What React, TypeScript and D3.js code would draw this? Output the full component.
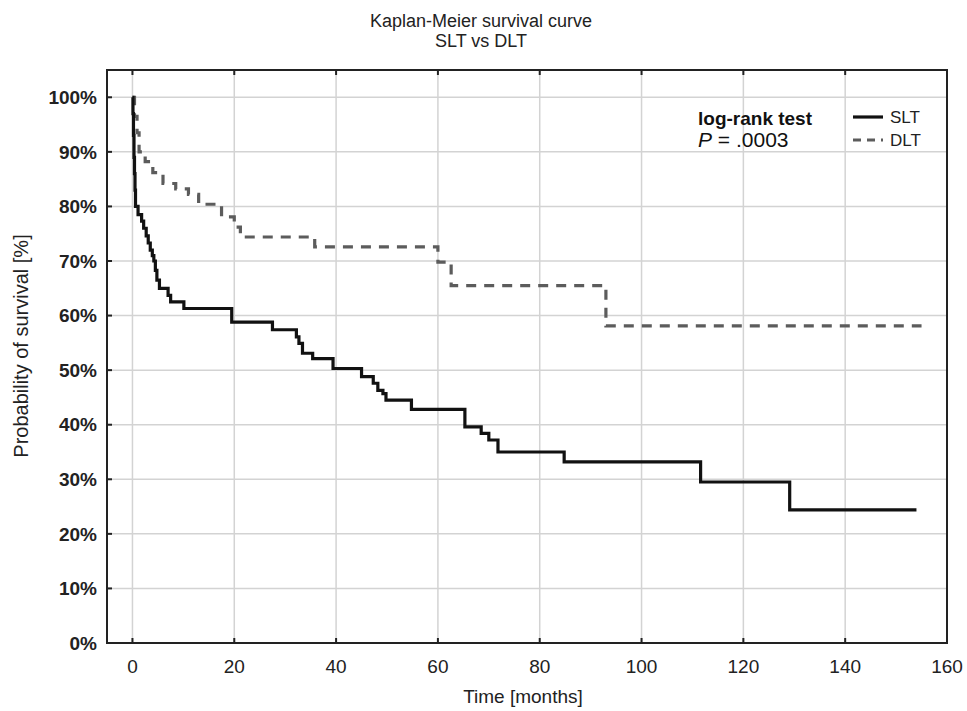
import React, { useRef, useEffect } from "react";
import * as d3 from "d3";

// Kaplan-Meier steps (months, % surviving)
const sltTimes = [0, 0.1, 0.2, 0.3, 0.4, 0.5, 0.6, 1.1, 1.8, 2.2, 2.7, 3.1, 3.5, 3.9, 4.2, 4.5, 4.8, 5.3, 7.0, 7.5, 10.1, 19.5, 27.5, 32.2, 32.7, 33.4, 35.4, 39.4, 45.0, 47.3, 48.2, 49.2, 49.8, 54.8, 65.3, 68.5, 70.0, 71.8, 84.8, 111.6, 129.1, 154];
const sltSurv = [100, 97, 93, 89, 86, 83, 80, 78.5, 77.3, 76, 74.6, 73.3, 72, 71, 70, 68.3, 66.5, 65, 63.7, 62.5, 61.3, 58.8, 57.4, 56.1, 54.9, 53.1, 52.1, 50.3, 48.8, 47.6, 46.3, 45.7, 44.5, 42.8, 39.6, 38.4, 37.2, 35.0, 33.2, 29.5, 24.4, 24.4];

const dltTimes = [0, 0.4, 0.9, 1.3, 2.5, 4.0, 6.0, 8.5, 11.0, 13.0, 17.5, 20.0, 21.2, 35.8, 60.0, 62.6, 93.0, 155];
const dltSurv = [100, 96.5, 93.5, 90, 88.2, 86.2, 84.2, 83.2, 82.2, 80.4, 78.1, 76.2, 74.4, 72.6, 69.8, 65.5, 58.1, 58.1];

const xTicks = [0, 20, 40, 60, 80, 100, 120, 140, 160];
const yTicks = [0, 10, 20, 30, 40, 50, 60, 70, 80, 90, 100];

const titleLines = ["Kaplan-Meier survival curve", "SLT vs DLT"];

export default function App() {
  const ref = useRef<SVGSVGElement>(null);

  useEffect(() => {
    const width = 967;
    const height = 711;
    const frame = { left: 107, right: 947, top: 70, bottom: 643 };
    const font = "'Liberation Sans', Arial, sans-serif";

    const svg = d3.select(ref.current);
    svg.selectAll("*").remove();
    svg.attr("width", width).attr("height", height);

    svg.append("rect").attr("width", width).attr("height", height).attr("fill", "#fff");

    const x = d3.scaleLinear().domain([-5, 160]).range([frame.left, frame.right]);
    const y = d3.scaleLinear().domain([0, 105]).range([frame.bottom, frame.top]);

    // grid
    const grid = svg.append("g").attr("stroke", "#d3d3d3").attr("stroke-width", 1.5);
    grid.selectAll("line.h")
      .data(yTicks.filter((d) => d > 0))
      .enter()
      .append("line")
      .attr("x1", frame.left)
      .attr("x2", frame.right)
      .attr("y1", (d) => y(d))
      .attr("y2", (d) => y(d));
    grid.selectAll("line.v")
      .data(xTicks.filter((d) => d < 160))
      .enter()
      .append("line")
      .attr("y1", frame.top)
      .attr("y2", frame.bottom)
      .attr("x1", (d) => x(d))
      .attr("x2", (d) => x(d));

    // curves
    const line = d3
      .line<[number, number]>()
      .x((d) => x(d[0]))
      .y((d) => y(d[1]))
      .curve(d3.curveStepAfter);

    const slt: [number, number][] = sltTimes.map((t, i) => [t, sltSurv[i]]);
    const dlt: [number, number][] = dltTimes.map((t, i) => [t, dltSurv[i]]);

    svg.append("path")
      .attr("d", line(dlt))
      .attr("fill", "none")
      .attr("stroke", "#5c5c5c")
      .attr("stroke-width", 3.2)
      .attr("stroke-dasharray", "10,8");

    svg.append("path")
      .attr("d", line(slt))
      .attr("fill", "none")
      .attr("stroke", "#111")
      .attr("stroke-width", 3.2);

    // frame
    svg.append("rect")
      .attr("x", frame.left)
      .attr("y", frame.top)
      .attr("width", frame.right - frame.left)
      .attr("height", frame.bottom - frame.top)
      .attr("fill", "none")
      .attr("stroke", "#222")
      .attr("stroke-width", 2);

    // inward ticks
    const ticks = svg.append("g").attr("stroke", "#222").attr("stroke-width", 2);
    yTicks.forEach((d) => {
      ticks.append("line").attr("x1", frame.left).attr("x2", frame.left + 5).attr("y1", y(d)).attr("y2", y(d));
    });
    xTicks.forEach((d) => {
      ticks.append("line").attr("x1", x(d)).attr("x2", x(d)).attr("y1", frame.bottom).attr("y2", frame.bottom - 5);
      ticks.append("line").attr("x1", x(d)).attr("x2", x(d)).attr("y1", frame.top).attr("y2", frame.top + 5);
    });

    // tick labels
    svg.append("g")
      .selectAll("text")
      .data(yTicks)
      .enter()
      .append("text")
      .attr("x", 97)
      .attr("y", (d) => y(d))
      .attr("dy", "0.35em")
      .attr("text-anchor", "end")
      .attr("font-family", font)
      .attr("font-weight", "bold")
      .attr("font-size", 19)
      .attr("fill", "#222")
      .text((d) => `${d}%`);

    svg.append("g")
      .selectAll("text")
      .data(xTicks)
      .enter()
      .append("text")
      .attr("x", (d) => x(d))
      .attr("y", 673)
      .attr("text-anchor", "middle")
      .attr("font-family", font)
      .attr("font-size", 19)
      .attr("fill", "#222")
      .text((d) => d);

    // axis titles
    svg.append("text")
      .attr("x", 523)
      .attr("y", 703)
      .attr("text-anchor", "middle")
      .attr("font-family", font)
      .attr("font-size", 19)
      .attr("fill", "#222")
      .text("Time [months]");

    svg.append("text")
      .attr("transform", "translate(28,346) rotate(-90)")
      .attr("text-anchor", "middle")
      .attr("font-family", font)
      .attr("font-size", 20)
      .attr("fill", "#222")
      .text("Probability of survival [%]");

    // title
    svg.append("g")
      .selectAll("text")
      .data(titleLines)
      .enter()
      .append("text")
      .attr("x", 481)
      .attr("y", (d, i) => 27 + i * 20)
      .attr("text-anchor", "middle")
      .attr("font-family", font)
      .attr("font-size", 18)
      .attr("fill", "#222")
      .text((d) => d);

    // log-rank annotation
    svg.append("text")
      .attr("x", 698)
      .attr("y", 125)
      .attr("font-family", font)
      .attr("font-weight", "bold")
      .attr("font-size", 19)
      .attr("fill", "#111")
      .text("log-rank test");

    const p = svg.append("text")
      .attr("x", 698)
      .attr("y", 147)
      .attr("font-family", font)
      .attr("font-size", 21)
      .attr("fill", "#111");
    p.append("tspan").attr("font-style", "italic").text("P");
    p.append("tspan").text(" = .0003");

    // legend
    const legend = [
      { name: "SLT", color: "#111", dash: null, y: 117 },
      { name: "DLT", color: "#5c5c5c", dash: "8,6", y: 140 },
    ];
    legend.forEach((l) => {
      svg.append("line")
        .attr("x1", 853)
        .attr("x2", 883)
        .attr("y1", l.y)
        .attr("y2", l.y)
        .attr("stroke", l.color)
        .attr("stroke-width", 3.2)
        .attr("stroke-dasharray", l.dash);
      svg.append("text")
        .attr("x", 890)
        .attr("y", l.y + 6)
        .attr("font-family", font)
        .attr("font-size", 17)
        .attr("fill", "#222")
        .text(l.name);
    });
  }, []);

  return (
    <svg
      ref={ref}
      style={{ position: "absolute", left: 0, top: 0, display: "block" }}
    ></svg>
  );
}
